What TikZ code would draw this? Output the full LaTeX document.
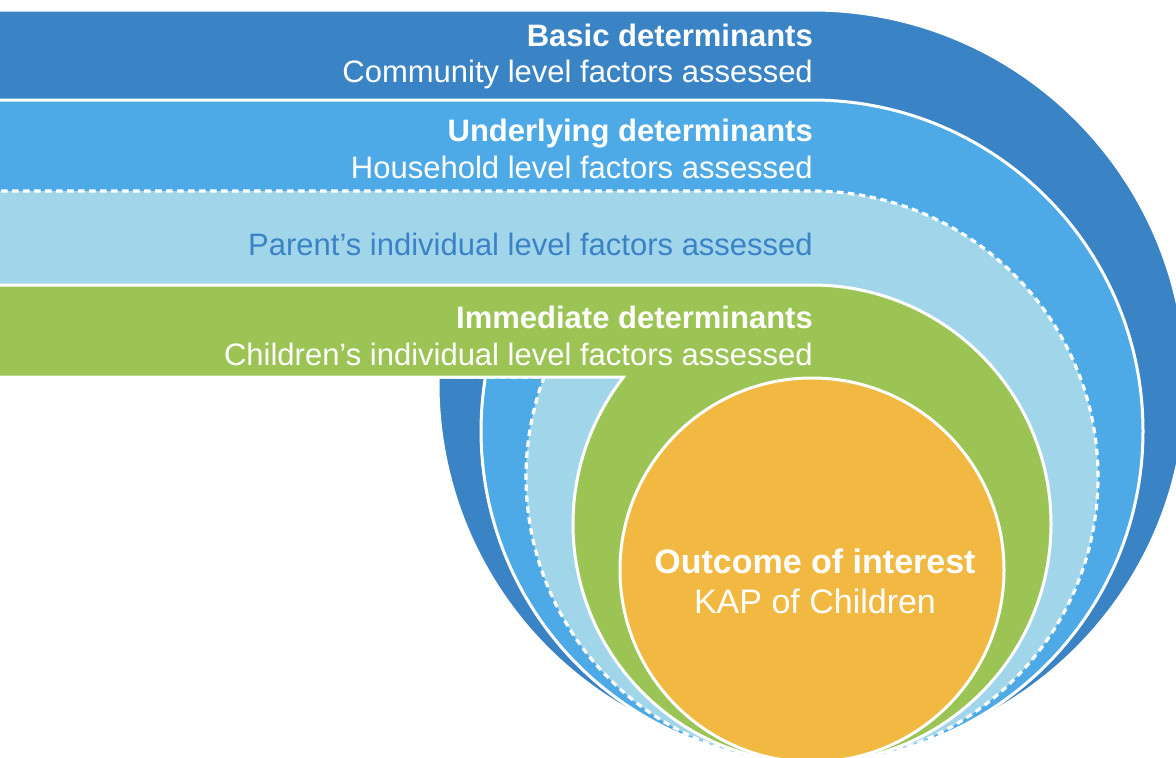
\documentclass[tikz,border=0pt]{standalone}
\usepackage{fontspec}
\setmainfont{Liberation Sans}

\definecolor{basicblue}{RGB}{58,131,197}
\definecolor{underblue}{RGB}{78,170,230}
\definecolor{parentblue}{RGB}{160,213,234}
\definecolor{immgreen}{RGB}{155,196,85}
\definecolor{outorange}{RGB}{241,185,66}
\definecolor{parenttext}{RGB}{59,130,198}

% a band: a bar from the left edge joined to a circle that hangs below it
% #1 = style, #2 = circle centre y, #3 = radius
\newcommand{\drawband}[3]{%
  \path[#1] (-10,{#2-#3}) -- (812,{#2-#3})
    arc[start angle=-90, end angle={180+asin((#2-377)/#3)}, radius=#3]
    -- (-10,377) -- cycle;}

\tikzset{
  band/.style={draw=white, line width=3pt},
  dashband/.style={draw=white, line width=3.2pt, dash pattern=on 6.5pt off 4.5pt},
  headtxt/.style={text=white, font=\fontsize{31}{37}\selectfont\bfseries, anchor=base east, inner sep=0pt},
  subtxt/.style={text=white, font=\fontsize{31}{37}\selectfont, anchor=base east, inner sep=0pt},
  outtxt/.style={text=white, anchor=base, inner sep=0pt}
}

\begin{document}
\begin{tikzpicture}[x=1pt,y=-1pt]
\useasboundingbox (0,0) rectangle (1176,758);
\begin{scope}
  \clip (0,0) rectangle (1176,758);
  \drawband{band, fill=basicblue}{384}{374}
  \drawband{band, fill=underblue}{431}{331}
  \drawband{dashband, fill=parentblue}{477}{286}
  \drawband{band, fill=immgreen}{524}{239}
  \path[band, fill=outorange] (812,570) circle[radius=192];
\end{scope}

\node[headtxt] (basic) at (813,46.5) {Basic determinants};
\node[subtxt] (community) at (813,82) {Community level factors assessed};
\node[headtxt] (underlying) at (813,141.5) {Underlying determinants};
\node[subtxt] (household) at (813,178) {Household level factors assessed};
\node[subtxt, text=parenttext] (parent) at (813,255) {Parent’s individual level factors assessed};
\node[headtxt] (immediate) at (813,328) {Immediate determinants};
\node[subtxt] (children) at (813,365) {Children’s individual level factors assessed};

\node[outtxt, font=\fontsize{34}{40}\selectfont\bfseries] (outcome) at (815,573) {Outcome of interest};
\node[outtxt, font=\fontsize{34}{40}\selectfont] (kap) at (815,613) {KAP of Children};
\end{tikzpicture}
\end{document}
